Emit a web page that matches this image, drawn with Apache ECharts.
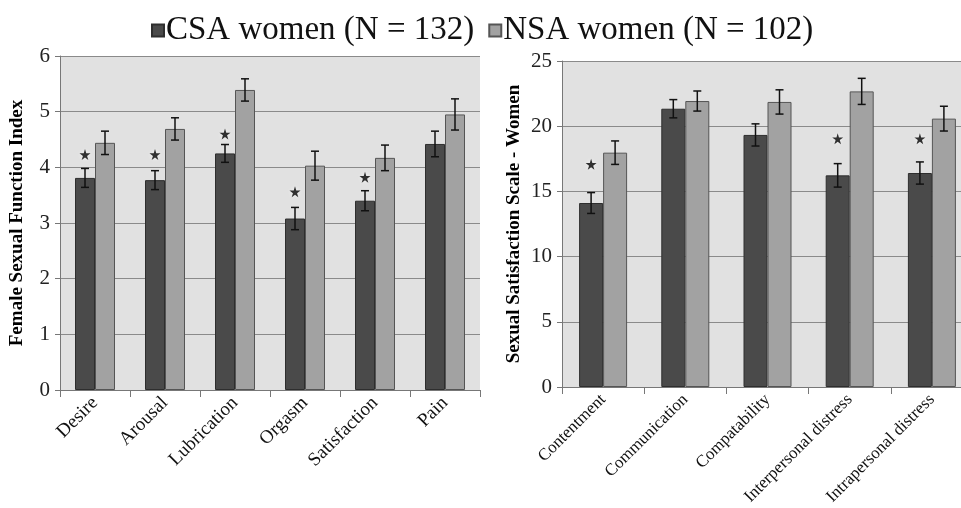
<!DOCTYPE html>
<html>
<head>
<meta charset="utf-8">
<script src="https://cdn.jsdelivr.net/npm/echarts@6/dist/echarts.min.js"></script>
<style>
  html, body { margin: 0; padding: 0; background: #fff; }
  #main { width: 961px; height: 508px; }
</style>
</head>
<body>
<div id="main"></div>
<script>
// FSFI panel
const fsfiCats = ['Desire', 'Arousal', 'Lubrication', 'Orgasm', 'Satisfaction', 'Pain'];
const fsfiCsa = [3.81, 3.77, 4.25, 3.08, 3.40, 4.42];
const fsfiCsaErr = [0.17, 0.17, 0.16, 0.20, 0.18, 0.23];
const fsfiNsa = [4.44, 4.69, 5.39, 4.03, 4.17, 4.95];
const fsfiNsaErr = [0.21, 0.20, 0.20, 0.26, 0.23, 0.28];
const fsfiStars = [4.23, 4.23, 4.60, 3.56, 3.82, null];

// SSS panel
const sssCats = ['Contentment', 'Communication', 'Compatability', 'Interpersonal distress', 'Intrapersonal distress'];
const sssCsa = [14.11, 21.34, 19.33, 16.23, 16.41];
const sssCsaErr = [0.80, 0.70, 0.85, 0.90, 0.85];
const sssNsa = [17.97, 21.93, 21.86, 22.67, 20.58];
const sssNsaErr = [0.90, 0.77, 0.93, 1.00, 0.95];
const sssStars = [17.08, null, null, 19.04, 19.04];

const legendNames = ['CSA women (N = 132)', 'NSA women (N = 102)'];

const serif = '"Liberation Serif", "DejaVu Serif", serif';
const darkCol = '#4a4a4a';
const lightCol = '#a2a2a2';
const starPath = 'path://M50,0 L61,35 L98,35 L68,57 L79,91 L50,70 L21,91 L32,57 L2,35 L39,35 Z';

// error bar drawn as custom series, shifted by half a bar width
function errSeries(gridIdx, vals, errs, shift) {
    return {
        type: 'custom',
        xAxisIndex: gridIdx,
        yAxisIndex: gridIdx,
        silent: true,
        z: 5,
        data: vals.map((v, i) => [i, v, errs[i]]),
        renderItem: function (params, api) {
            const i = api.value(0);
            const hi = api.coord([i, api.value(1) + api.value(2)]);
            const lo = api.coord([i, api.value(1) - api.value(2)]);
            const x = hi[0] + shift;
            const cap = 4;
            const style = { stroke: '#111', lineWidth: 1.5 };
            return {
                type: 'group',
                children: [
                    { type: 'line', shape: { x1: x, y1: hi[1], x2: x, y2: lo[1] }, style: style },
                    { type: 'line', shape: { x1: x - cap, y1: hi[1], x2: x + cap, y2: hi[1] }, style: style },
                    { type: 'line', shape: { x1: x - cap, y1: lo[1], x2: x + cap, y2: lo[1] }, style: style }
                ]
            };
        }
    };
}

function yAxisCfg(gridIdx, max, interval, name, gap) {
    return {
        type: 'value',
        gridIndex: gridIdx,
        min: 0,
        max: max,
        interval: interval,
        name: name,
        nameLocation: 'middle',
        nameGap: gap,
        nameTextStyle: { fontFamily: serif, fontWeight: 'bold', fontSize: 19, color: '#000' },
        axisLine: { show: true, lineStyle: { color: '#777', width: 1 } },
        axisTick: { show: true, length: 5, lineStyle: { color: '#777' } },
        axisLabel: { fontFamily: serif, fontSize: 21, color: '#222', margin: 10 },
        splitLine: { show: true, lineStyle: { color: '#8a8a8a', width: 1 } }
    };
}

function xAxisCfg(gridIdx, cats, size) {
    return {
        type: 'category',
        gridIndex: gridIdx,
        data: cats,
        axisLine: { show: true, lineStyle: { color: '#777', width: 1 } },
        axisTick: { show: true, length: 7, lineStyle: { color: '#777' } },
        axisLabel: { fontFamily: serif, fontSize: size, color: '#111', rotate: 45, margin: 10, interval: 0 }
    };
}

const chart = echarts.init(document.getElementById('main'));

const option = {
    backgroundColor: '#fff',
    animation: false,
    legend: {
        data: legendNames,
        left: 146,
        top: 9,
        icon: 'rect',
        itemWidth: 12,
        itemHeight: 12,
        itemGap: 14,
        textStyle: { fontFamily: serif, fontSize: 33, color: '#111', padding: [0, 0, 0, -3] }
    },
    grid: [
        { left: 60, top: 56, width: 420, bottom: 118, show: true, backgroundColor: '#e1e1e1', borderWidth: 0, outerBoundsMode: 'none' },
        { left: 562, top: 61, width: 411, bottom: 121, show: true, backgroundColor: '#e1e1e1', borderWidth: 0, outerBoundsMode: 'none' }
    ],
    xAxis: [xAxisCfg(0, fsfiCats, 19), xAxisCfg(1, sssCats, 17)],
    yAxis: [
        yAxisCfg(0, 6, 1, 'Female Sexual Function Index', 33),
        yAxisCfg(1, 25, 5, 'Sexual Satisfaction Scale - Women', 38)
    ],
    series: [
        {
            name: legendNames[0], type: 'bar', xAxisIndex: 0, yAxisIndex: 0,
            data: fsfiCsa, barWidth: 20, barGap: '0%',
            itemStyle: { color: darkCol, borderColor: '#2e2e2e', borderWidth: 1 }
        },
        {
            name: legendNames[1], type: 'bar', xAxisIndex: 0, yAxisIndex: 0,
            data: fsfiNsa, barWidth: 20, barGap: '0%',
            itemStyle: { color: lightCol, borderColor: '#555', borderWidth: 1 }
        },
        {
            name: legendNames[0], type: 'bar', xAxisIndex: 1, yAxisIndex: 1,
            data: sssCsa, barWidth: 24, barGap: '0%',
            itemStyle: { color: darkCol, borderColor: '#2e2e2e', borderWidth: 1 }
        },
        {
            name: legendNames[1], type: 'bar', xAxisIndex: 1, yAxisIndex: 1,
            data: sssNsa, barWidth: 24, barGap: '0%',
            itemStyle: { color: lightCol, borderColor: '#555', borderWidth: 1 }
        },
        errSeries(0, fsfiCsa, fsfiCsaErr, -10),
        errSeries(0, fsfiNsa, fsfiNsaErr, 10),
        errSeries(1, sssCsa, sssCsaErr, -12),
        errSeries(1, sssNsa, sssNsaErr, 12),
        {
            type: 'scatter', xAxisIndex: 0, yAxisIndex: 0, silent: true, z: 6,
            data: fsfiStars, symbol: starPath, symbolSize: 11, symbolOffset: [-10, 0],
            itemStyle: { color: '#000', shadowBlur: 4, shadowColor: 'rgba(255,255,255,0.9)' }
        },
        {
            type: 'scatter', xAxisIndex: 1, yAxisIndex: 1, silent: true, z: 6,
            data: sssStars, symbol: starPath, symbolSize: 11, symbolOffset: [-12, 0],
            itemStyle: { color: '#000', shadowBlur: 4, shadowColor: 'rgba(255,255,255,0.9)' }
        }
    ]
};

chart.setOption(option);
</script>
</body>
</html>
